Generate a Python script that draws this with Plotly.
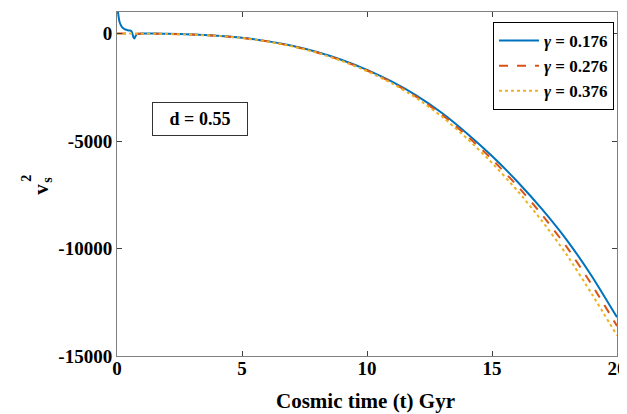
import plotly.graph_objects as go

t = [0, 0.05, 0.1, 0.15, 0.2, 0.3, 0.4, 0.5, 0.55, 0.6, 0.65, 0.7, 0.75, 0.8, 0.9, 1,
     1.5, 2, 3, 4, 5, 6, 7, 8, 9, 10, 11, 12, 13, 14, 15, 16, 17, 18, 19, 20]

v_g176 = [1500, 900, 550, 400, 300, 200, 160, 140, 130, 60, -150, -230, -100, -20, -10, -5,
          -5, -15, -45, -105, -200, -355, -570, -860, -1230, -1690, -2240, -2900, -3700,
          -4650, -5700, -6870, -8170, -9620, -11300, -13200]
v_g276 = [0, -2, -3, -4, -4, -5, -5, -5, -5, -5, -6, -6, -6, -6, -7, -8,
          -12, -20, -50, -110, -205, -365, -585, -880, -1260, -1720, -2280, -2960, -3780,
          -4760, -5850, -7070, -8430, -9950, -11700, -13600]
v_g376 = [0, -2, -3, -4, -4, -5, -5, -5, -5, -5, -6, -6, -6, -7, -7, -8,
          -13, -22, -52, -112, -210, -370, -595, -895, -1280, -1750, -2320, -3020, -3870,
          -4880, -6020, -7290, -8720, -10310, -12130, -14050]

x_ticks = [0, 5, 10, 15, 20]
y_ticks = [0, -5000, -10000, -15000]
y_tick_labels = ["0", "-5000", "-10000", "-15000"]

names = ["<i>γ</i> = 0.176", "<i>γ</i> = 0.276", "<i>γ</i> = 0.376"]
colors = ["#0072BD", "#D95319", "#EDB120"]
dashes = ["solid", "dash", "dot"]

FONT = "Liberation Serif"

fig = go.Figure()
for y, n, c, d in zip([v_g176, v_g276, v_g376], names, colors, dashes):
    fig.add_trace(go.Scatter(x=t, y=y, mode="lines", name=n,
                             line=dict(color=c, width=2, dash=d, shape="spline",
                                       smoothing=0.6)))

axis_common = dict(showline=True, linecolor="#7f7f7f", linewidth=1, mirror="ticks",
                   ticks="inside", ticklen=5, tickcolor="#404040", showgrid=False,
                   zeroline=False, automargin=False,
                   tickfont=dict(family=FONT, size=19, color="black", weight="bold"))

# page body has an 8px margin, so the figure is 8px smaller than the window
fig.update_layout(
    width=619, height=406,
    margin=dict(l=109, r=10, t=4, b=58),
    paper_bgcolor="white", plot_bgcolor="white",
    xaxis=dict(range=[0, 20], tickvals=x_ticks, ticklabeloverflow="allow",
               ticklabelstandoff=-5, **axis_common),
    yaxis=dict(range=[-15000, 1000], tickvals=y_ticks, ticktext=y_tick_labels,
               **axis_common),
    legend=dict(x=0.994, y=0.971, xanchor="right", yanchor="top",
                bordercolor="black", borderwidth=1, bgcolor="white",
                font=dict(family=FONT, size=17, color="black", weight="bold"),
                tracegroupgap=0, itemwidth=40),
    showlegend=True,
)

ann_font = dict(family=FONT, color="black", weight="bold")
fig.add_annotation(text="d = 0.55", xref="paper", yref="paper", x=0.166, y=0.689,
                   xanchor="center", yanchor="middle",
                   showarrow=False, font=dict(size=18, **ann_font),
                   bordercolor="#333333", borderwidth=1, width=92, height=30, borderpad=1,
                   bgcolor="white")
fig.add_annotation(text="Cosmic time (t) Gyr", xref="paper", yref="paper",
                   x=0.496, y=-0.13, xanchor="center", yanchor="middle",
                   showarrow=False, font=dict(size=21, **ann_font))
fig.add_annotation(text="v", xref="paper", yref="paper", x=-0.18, y=0.483,
                   textangle=-90, showarrow=False, font=dict(size=21, **ann_font))
fig.add_annotation(text="2", xref="paper", yref="paper", x=-0.2, y=0.517,
                   textangle=-90, showarrow=False, font=dict(size=14, **ann_font))
fig.add_annotation(text="s", xref="paper", yref="paper", x=-0.157, y=0.512,
                   textangle=-90, showarrow=False, font=dict(size=14, **ann_font))

fig.write_html("out.html")
